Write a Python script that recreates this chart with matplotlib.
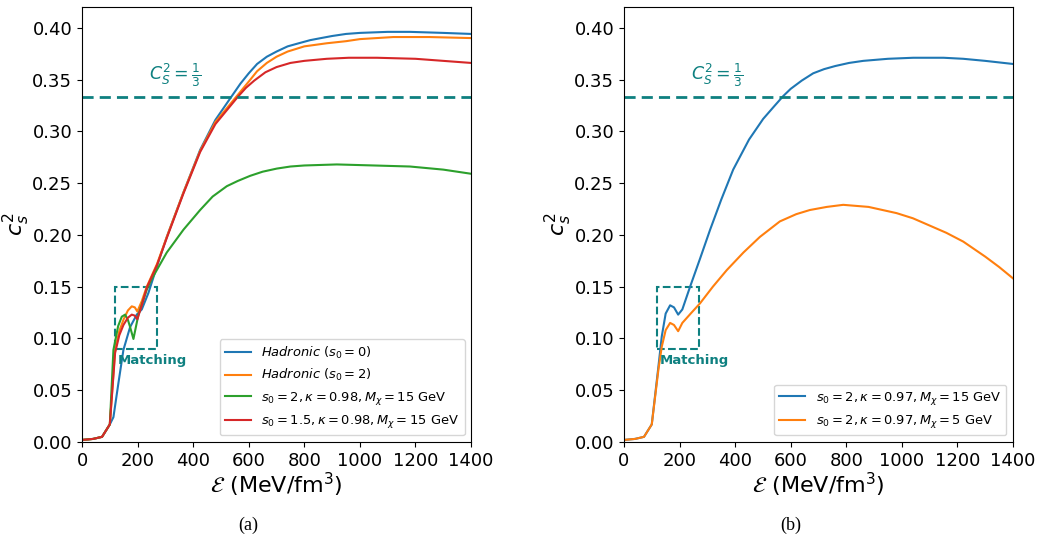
import numpy as np
import matplotlib
matplotlib.use("Agg")
import matplotlib.pyplot as plt
from matplotlib.patches import Rectangle

# %%
# Data (energy density in MeV/fm^3, c_s^2)
left_blue_x = [0, 40, 72, 100, 113, 131, 149, 173, 197, 215, 239, 270, 305, 365, 425, 480, 539,
               570, 600, 630, 665, 700, 740, 780, 821, 860, 900, 950, 1000, 1100, 1180, 1300, 1400]
left_blue_y = [0.002, 0.003, 0.005, 0.017, 0.024, 0.057, 0.089, 0.111, 0.123, 0.128, 0.144, 0.170,
               0.198, 0.241, 0.282, 0.311, 0.334, 0.346, 0.356, 0.365, 0.372, 0.377, 0.382, 0.385,
               0.388, 0.390, 0.392, 0.394, 0.395, 0.396, 0.396, 0.395, 0.394]

left_orange_x = [0, 40, 72, 100, 119, 134, 149, 165, 179, 190, 199, 215, 233, 270, 305, 365, 425,
                 480, 557, 600, 630, 665, 700, 740, 800, 881, 950, 1000, 1120, 1250, 1400]
left_orange_y = [0.002, 0.003, 0.005, 0.017, 0.089, 0.107, 0.118, 0.127, 0.131, 0.130, 0.126, 0.136,
                 0.150, 0.172, 0.198, 0.241, 0.281, 0.309, 0.334, 0.348, 0.358, 0.366, 0.372, 0.377,
                 0.382, 0.385, 0.387, 0.389, 0.391, 0.391, 0.390]

left_green_x = [0, 40, 72, 100, 113, 130, 143, 155, 165, 173, 185, 193, 203, 233, 250, 305, 365,
                425, 470, 521, 560, 605, 650, 701, 750, 800, 917, 1050, 1180, 1300, 1400]
left_green_y = [0.002, 0.003, 0.005, 0.017, 0.089, 0.112, 0.121, 0.123, 0.118, 0.111, 0.0995, 0.110,
                0.123, 0.147, 0.157, 0.183, 0.205, 0.224, 0.237, 0.247, 0.252, 0.257, 0.261, 0.264,
                0.266, 0.267, 0.268, 0.267, 0.266, 0.263, 0.259]

left_red_x = [0, 40, 72, 100, 119, 134, 149, 165, 179, 190, 199, 215, 233, 270, 305, 365, 425,
              480, 563, 590, 620, 660, 700, 750, 800, 881, 960, 1061, 1200, 1300, 1400]
left_red_y = [0.002, 0.003, 0.005, 0.017, 0.086, 0.103, 0.113, 0.120, 0.123, 0.122, 0.1185, 0.132,
              0.149, 0.171, 0.197, 0.240, 0.280, 0.307, 0.334, 0.342, 0.349, 0.357, 0.362, 0.366,
              0.368, 0.370, 0.371, 0.371, 0.370, 0.368, 0.366]

right_blue_x = [0, 40, 72, 100, 124, 136, 150, 166, 180, 195, 210, 238, 275, 310, 350, 393, 450,
                501, 540, 573, 600, 640, 681, 720, 760, 810, 861, 950, 1041, 1150, 1221, 1300, 1400]
right_blue_y = [0.002, 0.003, 0.005, 0.017, 0.073, 0.102, 0.124, 0.132, 0.130, 0.123, 0.128, 0.150,
                0.178, 0.205, 0.234, 0.263, 0.292, 0.312, 0.324, 0.334, 0.341, 0.349, 0.356, 0.360,
                0.363, 0.366, 0.368, 0.370, 0.371, 0.371, 0.370, 0.368, 0.365]

right_orange_x = [0, 40, 72, 100, 124, 136, 150, 166, 180, 195, 210, 240, 274, 320, 370, 430, 489,
                  561, 620, 669, 730, 789, 880, 981, 1040, 1100, 1160, 1221, 1300, 1350, 1400]
right_orange_y = [0.002, 0.003, 0.005, 0.017, 0.070, 0.092, 0.108, 0.115, 0.113, 0.107, 0.115, 0.124,
                  0.134, 0.150, 0.166, 0.183, 0.198, 0.213, 0.220, 0.224, 0.227, 0.229, 0.227, 0.221,
                  0.216, 0.209, 0.202, 0.1935, 0.179, 0.169, 0.158]

left_labels = [r"$Hadronic$ $(s_0=0)$",
               r"$Hadronic$ $(s_0=2)$",
               r"$s_0=2, \kappa=0.98, M_\chi=15$ GeV",
               r"$s_0=1.5, \kappa=0.98, M_\chi=15$ GeV"]
right_labels = [r"$s_0=2, \kappa=0.97, M_\chi=15$ GeV",
                r"$s_0=2, \kappa=0.97, M_\chi=5$ GeV"]

conformal = 1.0 / 3.0
match_box = (120, 0.09, 150, 0.06)  # x0, y0, width, height
TEAL = "#0e8080"

# %%
fig = plt.figure(figsize=(10.41, 5.56), dpi=100)
ax1 = fig.add_axes([0.0788, 0.205, 0.3737, 0.7824])
ax2 = fig.add_axes([0.5994, 0.205, 0.3737, 0.7824])


def style_axis(ax):
    ax.axhline(conformal, color=TEAL, linestyle="--", linewidth=2, dashes=(4, 2.2))
    ax.text(335, 0.354, r"$C_S^2 = \frac{1}{3}$", color=TEAL, fontsize=12.5, ha="center", va="center")
    x0, y0, w, h = match_box
    ax.add_patch(Rectangle((x0, y0), w, h, fill=False, edgecolor=TEAL, linestyle="--", linewidth=1.5))
    ax.text(x0 + 8, y0 - 0.011, "Matching", color=TEAL, fontsize=9.5, fontweight="bold", ha="left", va="center")
    ax.set_xlim(0, 1400)
    ax.set_ylim(0, 0.42)
    ax.set_xticks(np.arange(0, 1401, 200))
    ax.set_yticks(np.arange(0, 0.401, 0.05))
    ax.yaxis.set_major_formatter(matplotlib.ticker.FormatStrFormatter("%.2f"))
    ax.tick_params(labelsize=13)
    ax.set_xlabel(r"$\mathcal{E}$ (MeV/fm$^3$)", fontsize=16, labelpad=1)
    ax.set_ylabel(r"$c_s^2$", fontsize=16, labelpad=0)


ax1.plot(left_blue_x, left_blue_y, color="tab:blue", lw=1.5, label=left_labels[0])
ax1.plot(left_orange_x, left_orange_y, color="tab:orange", lw=1.5, label=left_labels[1])
ax1.plot(left_green_x, left_green_y, color="tab:green", lw=1.5, label=left_labels[2])
ax1.plot(left_red_x, left_red_y, color="tab:red", lw=1.5, label=left_labels[3])
style_axis(ax1)
ax1.legend(loc="lower right", fontsize=9.4)

ax2.plot(right_blue_x, right_blue_y, color="tab:blue", lw=1.5, label=right_labels[0])
ax2.plot(right_orange_x, right_orange_y, color="tab:orange", lw=1.5, label=right_labels[1])
style_axis(ax2)
ax2.legend(loc="lower right", fontsize=9.4)

# Sub-figure captions
fig.text(0.2382, 0.055, "(a)", fontsize=13, family="Liberation Serif", ha="center", va="center")
fig.text(0.7593, 0.055, "(b)", fontsize=13, family="Liberation Serif", ha="center", va="center")

fig.savefig("out.png", dpi=100)
